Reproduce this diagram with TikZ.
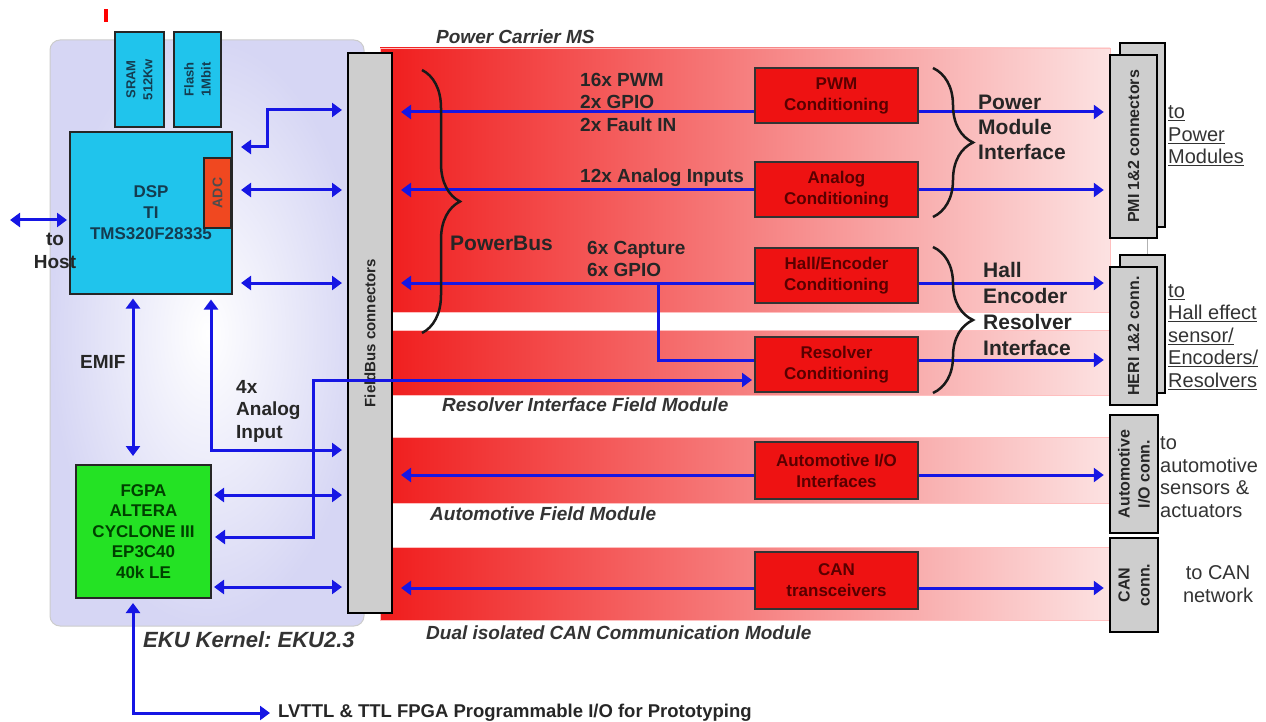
\documentclass[tikz,border=0pt]{standalone}
\usepackage{fontspec}
\setmainfont{Liberation Sans}
\usepackage{tikz}
\usetikzlibrary{arrows.meta,decorations.pathreplacing}
\usepackage{xcolor}

\definecolor{busblue}{RGB}{22,22,228}
\definecolor{kernellav}{RGB}{214,214,244}
\definecolor{dspcyan}{RGB}{32,196,236}
\definecolor{dsptext}{RGB}{20,60,80}
\definecolor{adcred}{RGB}{240,72,32}
\definecolor{fpgagreen}{RGB}{36,226,36}
\definecolor{bandred}{RGB}{240,28,28}
\definecolor{bandpink}{RGB}{252,226,226}
\definecolor{condred}{RGB}{238,18,18}
\definecolor{conngray}{RGB}{206,206,206}
\definecolor{txtgray}{RGB}{38,38,38}

\begin{document}
\begin{tikzpicture}[x=1pt,y=-1pt,>={Triangle[length=10pt,width=14pt]}]
\tikzstyle{chip} = [rectangle, draw=black!85, line width=2pt, align=center,
font=\bfseries\fontsize{17}{21}\selectfont, inner sep=0pt]
\tikzstyle{cond_box} = [rectangle, draw=black!80, line width=2pt, fill=condred,
minimum width=163, minimum height=55, align=center, text=red!35!black,
font=\bfseries\fontsize{17}{21}\selectfont, inner sep=0pt]
\tikzstyle{conn_box} = [rectangle, draw=black, line width=2.5pt, fill=conngray,
rotate=90, minimum height=47, align=center, text=black!85,
font=\bfseries\fontsize{16}{20}\selectfont, inner sep=0pt]
\tikzstyle{band} = [draw=red!25, line width=0.6pt, left color=bandred, right color=bandpink]
\tikzstyle{lbl} = [anchor=west, align=left, inner sep=0pt, text=txtgray,
font=\bfseries\fontsize{19}{22.5}\selectfont]
\tikzstyle{band_lbl} = [anchor=west, inner sep=0pt, text=black!80,
font=\bfseries\itshape\fontsize{19}{22}\selectfont]
\tikzstyle{side_lbl} = [anchor=west, align=left, inner sep=0pt, text=black!80,
font=\fontsize{20}{22.5}\selectfont]
\tikzstyle{line} = [draw=busblue, line width=3pt]
\tikzstyle{brace_line} = [draw=black!90, line width=2.5pt, decorate]
\useasboundingbox (0,0) rectangle (1266,722);

\fill[red] (104,9) rectangle (108,22);

% kernel and field modules
\node[rectangle, rounded corners=10pt, draw=black!20, line width=1pt,
inner color=white, outer color=kernellav, minimum width=314, minimum height=586] (kernel) at (207,333) {};
\path[band] (380,48) rectangle (1110,312);
\path[band] (380,330) rectangle (1110,395);
\path[band] (380,437) rectangle (1110,503);
\path[band] (380,547) rectangle (1110,620);
\node[conn_box, line width=2pt, minimum width=560, minimum height=44,
font=\bfseries\fontsize{15}{18}\selectfont] (fieldbus) at (370,333) {FieldBus connectors};

% chips
\node[chip, fill=dspcyan, rotate=90, minimum width=95, minimum height=49,
font=\bfseries\fontsize{13}{17}\selectfont, text=dsptext] (sram) at (139.5,79.5) {SRAM\\512Kw};
\node[chip, fill=dspcyan, rotate=90, minimum width=95, minimum height=47,
font=\bfseries\fontsize{13}{17}\selectfont, text=dsptext] (flash) at (197.5,79.5) {Flash\\1Mbit};
\node[chip, fill=dspcyan, minimum width=162, minimum height=161, text=dsptext] (dsp) at (151,213) {DSP\\TI\\TMS320F28335};
\node[chip, fill=adcred, rotate=90, line width=1.5pt, minimum width=70, minimum height=27,
font=\bfseries\fontsize{14}{16}\selectfont, text=black!70] (adc) at (217.5,193) {ADC};
\node[chip, fill=fpgagreen, minimum width=135, minimum height=133, text=green!25!black,
font=\bfseries\fontsize{17}{20.5}\selectfont] (fpga) at (143.5,531.5) {FGPA\\ALTERA\\CYCLONE III\\EP3C40\\40k LE};

% conditioning
\node[cond_box] (pwm) at (836.5,95.5) {PWM\\Conditioning};
\node[cond_box] (analog) at (836.5,189.5) {Analog\\Conditioning};
\node[cond_box] (hall) at (836.5,275.5) {Hall/Encoder\\Conditioning};
\node[cond_box] (resolver) at (836.5,364.5) {Resolver\\Conditioning};
\node[cond_box, minimum height=57] (auto_io) at (836.5,470.5) {Automotive I/O\\Interfaces};
\node[cond_box, minimum height=57] (can) at (836.5,580.5) {CAN\\transceivers};

% connectors
\node[conn_box, minimum width=184, minimum height=45] (pmi_back) at (1142.5,135) {};
\node[conn_box, minimum width=183] (pmi) at (1133.5,146.5) {PMI 1\&2 connectors};
\node[conn_box, minimum width=138, minimum height=45] (heri_back) at (1142.5,324) {};
\node[conn_box, minimum width=138] (heri) at (1133.5,336) {HERI 1\&2 conn.};
\node[conn_box, minimum width=118, minimum height=48] (auto_conn) at (1134,474) {Automotive\\I/O conn.};
\node[conn_box, minimum width=94, minimum height=48] (can_conn) at (1134,585) {CAN\\conn.};
\draw[gray!60, line width=1pt] (1147,0 |- pmi.west) -- (1147,0 |- heri_back.east);

% texts
\node[lbl, align=center, anchor=center] (host_lbl) at (55,251) {to\\Host};
\node[lbl] (emif_lbl) at (80,362) {EMIF};
\node[lbl] (ain_lbl) at (236,411) {4x\\Analog\\Input};
\node[lbl] (pwm_sig) at (580,102) {16x PWM\\2x GPIO\\2x Fault IN};
\node[lbl] (analog_sig) at (580,178) {12x Analog Inputs};
\node[lbl] (hall_sig) at (587,259) {6x Capture\\6x GPIO};
\node[lbl, font=\bfseries\fontsize{21}{25}\selectfont] (powerbus) at (450,243) {PowerBus};
\node[lbl, font=\bfseries\fontsize{21}{25}\selectfont] (pmi_if) at (978,127) {Power\\Module\\Interface};
\node[lbl, font=\bfseries\fontsize{21}{26}\selectfont] (heri_if) at (983,309) {Hall\\Encoder\\Resolver\\Interface};
\node[side_lbl] (to_pm) at (1168,136) {\underline{to}\\\underline{Power}\\\underline{Modules}};
\node[side_lbl] (to_hall) at (1168,337) {\underline{to}\\\underline{Hall effect}\\\underline{sensor/}\\\underline{Encoders/}\\\underline{Resolvers}};
\node[side_lbl] (to_auto) at (1160,477) {to\\automotive\\sensors \&\\actuators};
\node[side_lbl, align=center, anchor=center] (to_can) at (1218,584) {to CAN\\network};
\node[band_lbl] (pc_lbl) at (436,37) {Power Carrier MS};
\node[band_lbl] (res_lbl) at (442,405) {Resolver Interface Field Module};
\node[band_lbl] (auto_lbl) at (430,514) {Automotive Field Module};
\node[band_lbl] (can_lbl) at (426,633) {Dual isolated CAN Communication Module};
\node[band_lbl, font=\bfseries\itshape\fontsize{22}{26}\selectfont] (eku_lbl) at (143,640) {EKU Kernel:\ EKU2.3};
\node[lbl, font=\bfseries\fontsize{18.5}{22}\selectfont] (proto) at (278,713) {LVTTL \& TTL FPGA Programmable I/O for Prototyping};

% kernel buses
\coordinate (host_end) at (10,220);
\draw[line,<->,shorten >=2pt] (host_end) -- (dsp.west |- host_end);
\draw[line,<->,shorten <=8pt,shorten >=5pt] (dsp.east |- 0,147) -- (267,147) -- (267,110) -- (fieldbus.north |- 0,110);
\draw[line,<->,shorten <=8pt,shorten >=5pt] (dsp.east |- 0,190) -- (fieldbus.north |- 0,190);
\draw[line,<->,shorten <=8pt,shorten >=5pt] (dsp.east |- 0,283) -- (fieldbus.north |- 0,283);
\draw[line,<->,shorten <=4pt,shorten >=8pt] (133,0 |- dsp.south) -- (133,0 |- fpga.north);
\draw[line,<->,shorten <=5pt,shorten >=5pt] (211,0 |- dsp.south) -- (211,450) -- (fieldbus.north |- 0,450);
\draw[line,<->,shorten <=2pt,shorten >=5pt] (fpga.east |- 0,495) -- (fieldbus.north |- 0,495);
\draw[line,<->,shorten <=2pt,shorten >=5pt] (fpga.east |- 0,587) -- (fieldbus.north |- 0,587);
\draw[line,<->,shorten <=3pt,shorten >=2pt] (fpga.east |- 0,537) -- (313,537) -- (313,380) -- (resolver.west |- 0,380);
\draw[line,<->,shorten <=4pt,shorten >=8pt] (133,0 |- fpga.south) -- (133,713) -- (proto.west);

% field module buses
\foreach \cname/\ypos in {pwm/112, analog/190, hall/283, auto_io/475, can/588}
  \draw[line,->,shorten >=8pt] (\cname.west |- 0,\ypos) -- (fieldbus.south |- 0,\ypos);
\foreach \cname/\conn/\ypos in {pwm/pmi/112, analog/pmi/190, hall/heri/283, resolver/heri/360, auto_io/auto_conn/475, can/can_conn/588}
  \draw[line,->,shorten >=5pt] (\cname.east |- 0,\ypos) -- (\conn.north |- 0,\ypos);
\coordinate (hall_tap) at (658,283);
\draw[line] (hall_tap) -- (658,360) -- (resolver.west |- 0,360);

% braces
\draw[brace_line, decoration={brace, amplitude=38pt}] (422,70) -- (422,333);
\draw[brace_line, decoration={brace, amplitude=40pt}] (933,68) -- (933,217);
\draw[brace_line, decoration={brace, amplitude=40pt}] (933,247) -- (933,393);
\end{tikzpicture}
\end{document}
